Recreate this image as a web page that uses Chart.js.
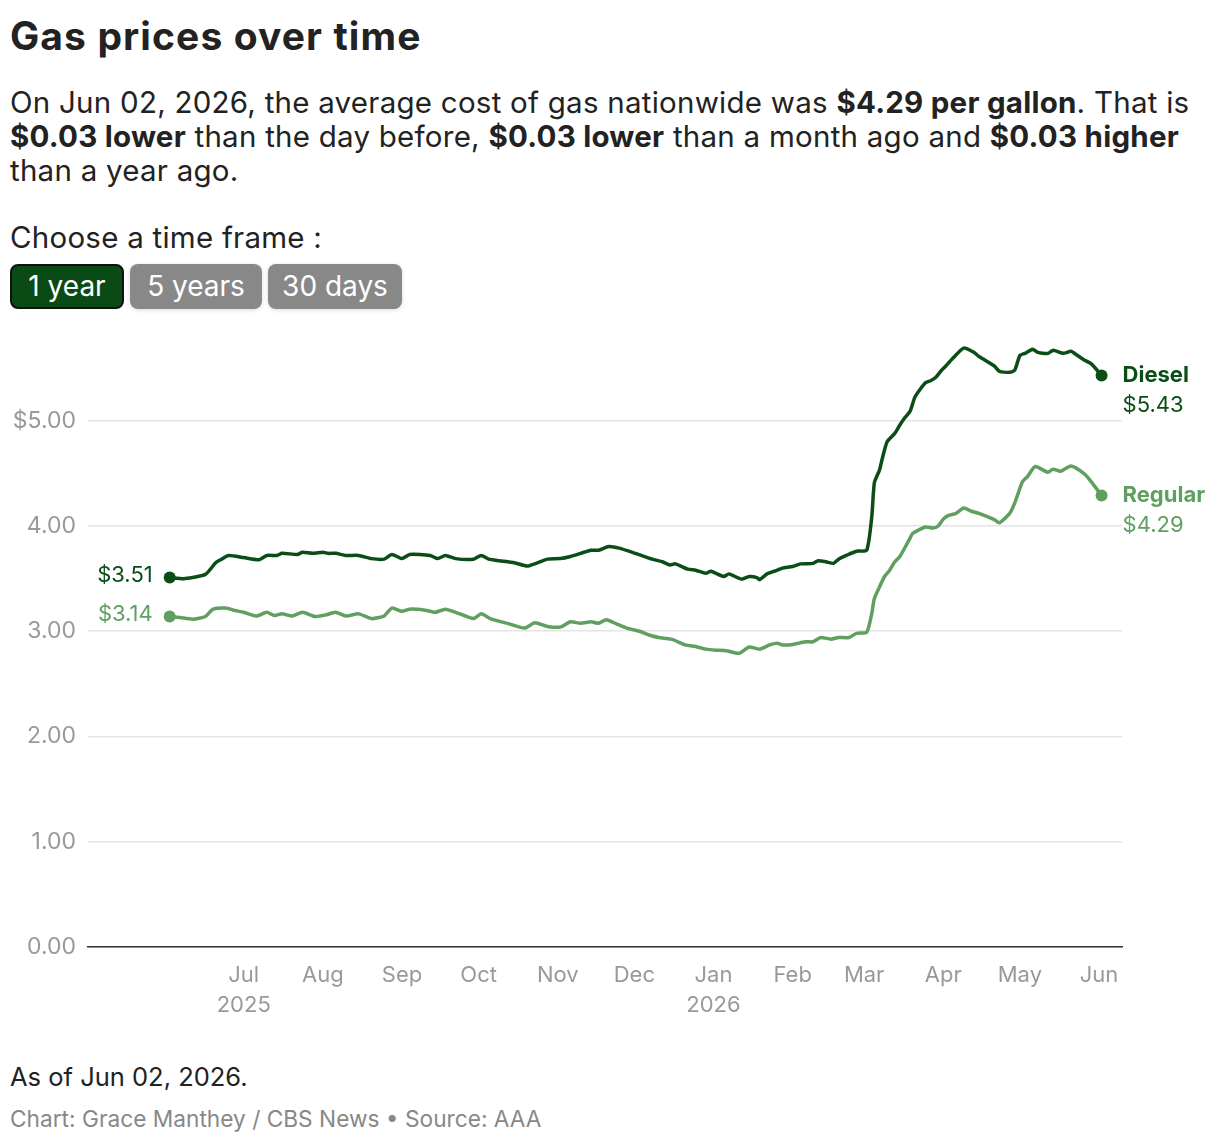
<!DOCTYPE html>
<html>
<head>
<meta charset="utf-8">
<script src="https://cdn.jsdelivr.net/npm/chart.js@4.4.1/dist/chart.umd.min.js"></script>
<style>
  body { margin: 0; background: #fff; font-family: Inter, "Open Sans", sans-serif; color: #222; }
  #page { position: relative; width: 1220px; height: 1146px; overflow: hidden; }
  .abs { position: absolute; white-space: nowrap; }
  #title { left: 10px; top: 16px; font-size: 39px; font-weight: 700; line-height: 1; letter-spacing: 1.1px; }
  #dek { left: 10px; top: 85px; font-size: 29.5px; line-height: 34px; letter-spacing: 0.25px; }
  #dek b { font-weight: 700; }
  #choose { left: 10px; top: 220px; font-size: 29.5px; line-height: 34px; letter-spacing: 0.25px; }
  .btn { position: absolute; top: 264px; height: 45px; line-height: 45px; border-radius: 8px;
         color: #fff; font-size: 28px; text-align: center; box-sizing: border-box; }
  #b1 { left: 10px; width: 114px; background: #0a4a14; border: 2px solid #111; line-height: 41px; }
  #b2 { left: 130px; width: 132px; background: #888; box-shadow: 0 1px 4px rgba(0,0,0,0.15); }
  #b3 { left: 268px; width: 134px; background: #888; box-shadow: 0 1px 4px rgba(0,0,0,0.15); }
  #chartBox { position: absolute; left: 0; top: 320px; width: 1220px; height: 710px; }
  #asof { left: 10px; top: 1061px; font-size: 25.5px; color: #222; }
  #credit { left: 10px; top: 1105px; font-size: 22.7px; color: #888; }
</style>
</head>
<body>
<div id="page">
  <div id="title" class="abs">Gas prices over time</div>
  <div id="dek" class="abs">On Jun 02, 2026, the average cost of gas nationwide was <b>$4.29 per gallon</b>. That is<br><b>$0.03 lower</b> than the day before, <b>$0.03 lower</b> than a month ago and <b>$0.03 higher</b><br>than a year ago.</div>
  <div id="choose" class="abs">Choose a time frame :</div>
  <div id="b1" class="btn">1 year</div>
  <div id="b2" class="btn">5 years</div>
  <div id="b3" class="btn">30 days</div>
  <div id="chartBox"><canvas id="gasChart" width="1220" height="710"></canvas></div>
  <div id="asof" class="abs">As of Jun 02, 2026.</div>
  <div id="credit" class="abs">Chart: Grace Manthey / CBS News • Source: AAA</div>
</div>
<script>
// daily average price
const startDate = "2025-06-02";

const dieselDates = [
  "2025-06-02","2025-06-08","2025-06-16","2025-06-20","2025-06-22","2025-06-25","2025-07-01","2025-07-07",
  "2025-07-10","2025-07-14","2025-07-16","2025-07-22","2025-07-24","2025-07-28","2025-08-01","2025-08-03",
  "2025-08-06","2025-08-10","2025-08-15","2025-08-20","2025-08-25","2025-08-28","2025-09-01","2025-09-04",
  "2025-09-12","2025-09-15","2025-09-18","2025-09-22","2025-09-29","2025-10-02","2025-10-05","2025-10-09",
  "2025-10-15","2025-10-20","2025-10-24","2025-10-28","2025-11-02","2025-11-06","2025-11-10","2025-11-14",
  "2025-11-17","2025-11-21","2025-11-25","2025-12-02","2025-12-08","2025-12-12","2025-12-15","2025-12-17",
  "2025-12-22","2025-12-25","2025-12-29","2025-12-31","2026-01-05","2026-01-07","2026-01-12","2026-01-15",
  "2026-01-18","2026-01-19","2026-01-22","2026-01-26","2026-01-28","2026-02-01","2026-02-04","2026-02-09",
  "2026-02-11","2026-02-14","2026-02-17","2026-02-19","2026-02-22","2026-02-26","2026-03-02","2026-03-04",
  "2026-03-05","2026-03-07","2026-03-08","2026-03-10","2026-03-13","2026-03-15","2026-03-17","2026-03-19",
  "2026-03-21","2026-03-25","2026-03-27","2026-03-29","2026-03-31","2026-04-02","2026-04-05","2026-04-09",
  "2026-04-13","2026-04-15","2026-04-21","2026-04-23","2026-04-27","2026-04-29","2026-05-01","2026-05-03",
  "2026-05-06","2026-05-08","2026-05-12","2026-05-14","2026-05-18","2026-05-21","2026-05-23","2026-05-26",
  "2026-05-29","2026-06-02"
];
const dieselPrices = [
  3.51,3.50,3.54,3.65,3.68,3.72,3.70,3.68,
  3.72,3.72,3.74,3.73,3.75,3.74,3.75,3.74,
  3.74,3.72,3.72,3.69,3.685,3.73,3.69,3.73,
  3.72,3.69,3.72,3.69,3.685,3.72,3.685,3.67,
  3.65,3.62,3.65,3.685,3.69,3.71,3.74,3.77,
  3.77,3.805,3.79,3.735,3.685,3.66,3.63,3.64,
  3.59,3.58,3.55,3.57,3.52,3.545,3.495,3.52,
  3.51,3.49,3.545,3.58,3.60,3.615,3.64,3.645,
  3.67,3.66,3.645,3.685,3.72,3.76,3.77,4.09,
  4.41,4.53,4.63,4.80,4.88,4.96,5.03,5.09,
  5.23,5.36,5.38,5.41,5.47,5.52,5.60,5.69,
  5.65,5.61,5.52,5.47,5.46,5.48,5.62,5.64,
  5.68,5.65,5.64,5.67,5.64,5.66,5.63,5.58,
  5.54,5.43
];

const regularDates = [
  "2025-06-02","2025-06-06","2025-06-11","2025-06-16","2025-06-19","2025-06-24","2025-06-27","2025-07-01",
  "2025-07-06","2025-07-10","2025-07-13","2025-07-16","2025-07-20","2025-07-24","2025-07-29","2025-08-02",
  "2025-08-06","2025-08-10","2025-08-15","2025-08-20","2025-08-25","2025-08-28","2025-09-01","2025-09-04",
  "2025-09-10","2025-09-14","2025-09-18","2025-09-22","2025-09-29","2025-10-02","2025-10-06","2025-10-13",
  "2025-10-19","2025-10-23","2025-10-28","2025-11-02","2025-11-06","2025-11-10","2025-11-14","2025-11-17",
  "2025-11-20","2025-11-24","2025-11-28","2025-12-03","2025-12-08","2025-12-12","2025-12-16","2025-12-21",
  "2025-12-25","2025-12-29","2026-01-02","2026-01-06","2026-01-11","2026-01-15","2026-01-19","2026-01-23",
  "2026-01-26","2026-01-28","2026-02-01","2026-02-06","2026-02-09","2026-02-12","2026-02-16","2026-02-19",
  "2026-02-23","2026-02-26","2026-03-02","2026-03-04","2026-03-05","2026-03-07","2026-03-09","2026-03-11",
  "2026-03-13","2026-03-15","2026-03-19","2026-03-20","2026-03-25","2026-03-28","2026-03-30","2026-04-01",
  "2026-04-03","2026-04-06","2026-04-09","2026-04-12","2026-04-15","2026-04-21","2026-04-23","2026-04-27",
  "2026-04-29","2026-05-02","2026-05-04","2026-05-07","2026-05-12","2026-05-14","2026-05-17","2026-05-21",
  "2026-05-26","2026-05-29","2026-06-02"
];
const regularPrices = [
  3.14,3.13,3.115,3.14,3.21,3.22,3.20,3.18,
  3.145,3.18,3.15,3.165,3.145,3.18,3.14,3.155,
  3.18,3.145,3.165,3.12,3.145,3.22,3.19,3.21,
  3.20,3.18,3.21,3.18,3.12,3.165,3.115,3.07,
  3.03,3.08,3.045,3.04,3.09,3.075,3.09,3.075,
  3.11,3.07,3.03,3.00,2.955,2.935,2.92,2.87,
  2.855,2.83,2.82,2.815,2.79,2.85,2.83,2.87,
  2.885,2.87,2.875,2.90,2.90,2.94,2.925,2.94,
  2.94,2.98,2.99,3.17,3.31,3.42,3.52,3.58,
  3.66,3.71,3.885,3.93,3.99,3.98,4.00,4.065,
  4.10,4.12,4.17,4.14,4.12,4.06,4.03,4.12,
  4.22,4.42,4.47,4.565,4.51,4.54,4.52,4.57,
  4.50,4.42,4.29
];

const monthTicks = ["2025-07-01","2025-08-01","2025-09-01","2025-10-01","2025-11-01","2025-12-01",
                    "2026-01-01","2026-02-01","2026-03-01","2026-04-01","2026-05-01","2026-06-01"];
const monthLabels = ["Jul","Aug","Sep","Oct","Nov","Dec","Jan","Feb","Mar","Apr","May","Jun"];
const yearLabels = { "Jul": "2025", "Jan": "2026" };
const yTicks = [0, 1, 2, 3, 4, 5];

const dieselColor = "#0a4d16";
const regularColor = "#5f9f5f";

function dayIndex(s) {
  return Math.round((Date.parse(s) - Date.parse(startDate)) / 86400000);
}
const toPoints = (dates, vals) => dates.map((d, i) => ({ x: dayIndex(d), y: vals[i] }));
const tickDays = monthTicks.map(dayIndex);

// labels at the start and end of each line
const lineLabels = {
  id: "lineLabels",
  afterDatasetsDraw(chart) {
    const ctx = chart.ctx;
    ctx.save();
    chart.data.datasets.forEach((ds, i) => {
      const pts = chart.getDatasetMeta(i).data;
      const first = pts[0], last = pts[pts.length - 1];
      const v0 = ds.data[0].y, v1 = ds.data[ds.data.length - 1].y;
      ctx.fillStyle = ds.borderColor;
      ctx.textBaseline = "middle";
      ctx.textAlign = "right";
      ctx.font = "22px Inter";
      ctx.fillText("$" + v0.toFixed(2), first.x - 17, first.y - 2);
      ctx.textAlign = "left";
      ctx.font = "bold 22px Inter";
      ctx.fillText(ds.label, last.x + 21, last.y);
      ctx.font = "22px Inter";
      ctx.fillText("$" + v1.toFixed(2), last.x + 21, last.y + 30);
    });
    ctx.restore();
  }
};

const endRadius = ctx => (ctx.dataIndex === 0 || ctx.dataIndex === ctx.dataset.data.length - 1) ? 6 : 0;

new Chart(document.getElementById("gasChart"), {
  type: "line",
  data: {
    datasets: [
      {
        label: "Diesel",
        data: toPoints(dieselDates, dieselPrices),
        borderColor: dieselColor,
        backgroundColor: dieselColor,
        borderWidth: 3.5,
        tension: 0.2,
        clip: false,
        pointRadius: endRadius,
        pointBorderWidth: 0
      },
      {
        label: "Regular",
        data: toPoints(regularDates, regularPrices),
        borderColor: regularColor,
        backgroundColor: regularColor,
        borderWidth: 3.5,
        tension: 0.2,
        clip: false,
        pointRadius: endRadius,
        pointBorderWidth: 0
      }
    ]
  },
  options: {
    responsive: false,
    animation: false,
    layout: { padding: { top: 26, right: 98, left: 0, bottom: 0 } },
    plugins: { legend: { display: false }, tooltip: { enabled: false } },
    scales: {
      x: {
        type: "linear",
        min: -32,
        max: 373,
        afterBuildTicks: s => { s.ticks = tickDays.map(v => ({ value: v })); },
        afterFit: s => { s.height = 83; },
        grid: { display: false, drawTicks: false },
        border: { display: true, color: "#333", width: 1.5 },
        ticks: {
          autoSkip: false,
          maxRotation: 0,
          padding: 14,
          color: "#999",
          font: { family: "Inter", size: 22, lineHeight: 1.35 },
          callback: v => {
            const m = monthLabels[tickDays.indexOf(v)];
            return yearLabels[m] ? [m, yearLabels[m]] : m;
          }
        }
      },
      y: {
        min: 0,
        max: 5.71,
        afterBuildTicks: s => { s.ticks = yTicks.map(v => ({ value: v })); },
        afterFit: s => { s.width = 88; },
        grid: { color: "#e4e4e4", lineWidth: 1.5, drawTicks: false },
        border: { display: false },
        ticks: {
          padding: 12,
          color: "#999",
          font: { family: "Inter", size: 23 },
          callback: v => (v === 5 ? "$" : "") + v.toFixed(2)
        }
      }
    }
  },
  plugins: [lineLabels]
});
</script>
</body>
</html>
